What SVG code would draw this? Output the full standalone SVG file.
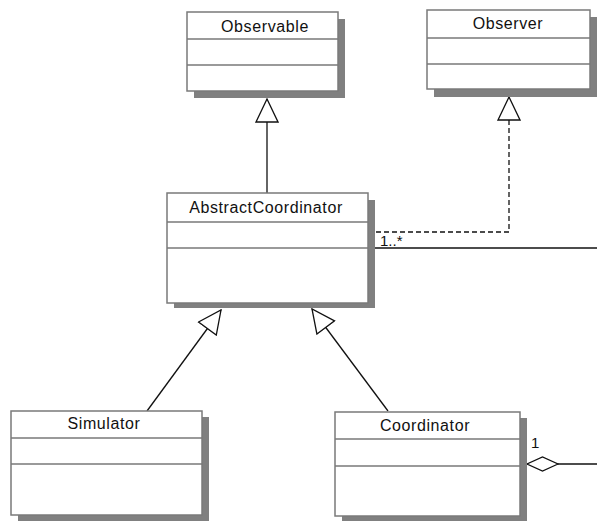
<svg xmlns="http://www.w3.org/2000/svg" width="597" height="521" viewBox="0 0 597 521">
<style>
.shadow{fill:#808080;stroke:none}
.box{fill:#ffffff;stroke:#7a7a7a;stroke-width:1.5}
.div{stroke:#7a7a7a;stroke-width:1.3;fill:none}
.name{font-family:"Liberation Sans",Arial,sans-serif;font-size:16px;letter-spacing:0.6px;fill:#111;text-anchor:middle}
.mult{font-family:"Liberation Sans",Arial,sans-serif;font-size:15px;fill:#111}
.edge{fill:none;stroke:#111;stroke-width:1.3}
.dash{stroke-dasharray:5,3}
</style>
<defs>
<marker id="gen" viewBox="-1 -1 25 24" refX="23" refY="11" markerWidth="25" markerHeight="24" markerUnits="userSpaceOnUse" orient="auto">
<path d="M0,0 L23,11 L0,22 Z" fill="#ffffff" stroke="#111" stroke-width="1.3" stroke-dasharray="none"/>
</marker>
<marker id="agg" viewBox="-1 -1 33 16" refX="31" refY="7" markerWidth="33" markerHeight="16" markerUnits="userSpaceOnUse" orient="auto">
<path d="M0,7 L15.5,0 L31,7 L15.5,14 Z" fill="#ffffff" stroke="#111" stroke-width="1.3"/>
</marker>
</defs>
<rect width="597" height="521" fill="#ffffff"/>
<g id="connectors">
<path class="edge" d="M267,193 V99" marker-end="url(#gen)"/>
<path class="edge dash" d="M376,232 H509 V97" marker-end="url(#gen)"/>
<path class="edge" d="M372,248 H597"/>
<path class="edge" d="M147,411 L221,310" marker-end="url(#gen)"/>
<path class="edge" d="M388,411 L312,309" marker-end="url(#gen)"/>
<path class="edge" d="M597,464 H527" marker-end="url(#agg)"/>
<text class="mult" x="380" y="246">1..*</text>
<text class="mult" x="531" y="448">1</text>
</g>
<g id="Observable">
<rect class="shadow" x="194" y="19" width="151" height="79"/>
<rect class="box" x="187" y="12" width="151" height="79"/>
<path class="div" d="M187,39 H338 M187,65 H338"/>
<text class="name" x="265" y="32">Observable</text>
</g>
<g id="Observer">
<rect class="shadow" x="434" y="17" width="163" height="80"/>
<rect class="box" x="427" y="10" width="163" height="79"/>
<path class="div" d="M427,38 H590 M427,64 H590"/>
<text class="name" x="508" y="29">Observer</text>
</g>
<g id="AbstractCoordinator">
<rect class="shadow" x="174" y="200" width="201" height="108"/>
<rect class="box" x="167" y="193" width="201" height="110"/>
<path class="div" d="M167,222 H368 M167,248 H368"/>
<text class="name" x="266" y="213">AbstractCoordinator</text>
</g>
<g id="Simulator">
<rect class="shadow" x="18" y="417" width="191" height="104"/>
<rect class="box" x="11" y="411" width="191" height="104"/>
<path class="div" d="M11,438 H202 M11,464 H202"/>
<text class="name" x="104" y="429">Simulator</text>
</g>
<g id="Coordinator">
<rect class="shadow" x="342" y="418" width="185" height="104"/>
<rect class="box" x="335" y="412" width="185" height="104"/>
<path class="div" d="M335,439 H520 M335,466 H520"/>
<text class="name" x="425" y="431">Coordinator</text>
</g>
</svg>
